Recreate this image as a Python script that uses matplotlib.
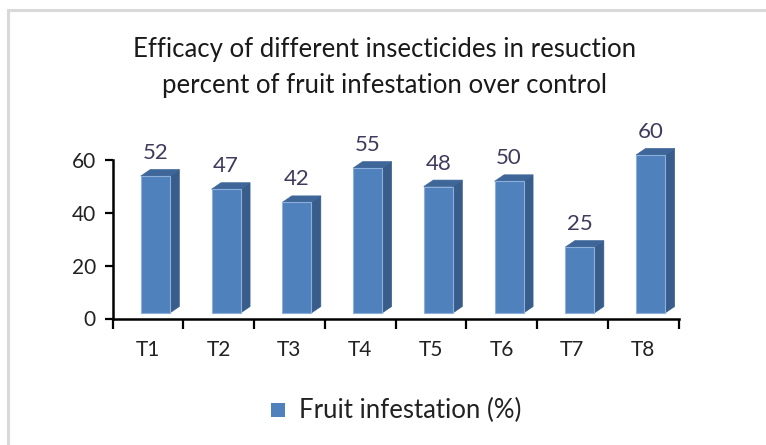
import matplotlib
matplotlib.use("Agg")
import matplotlib.pyplot as plt
from matplotlib.patches import Polygon, Rectangle
from matplotlib.lines import Line2D

categories = ["T1", "T2", "T3", "T4", "T5", "T6", "T7", "T8"]
values = [52, 47, 42, 55, 48, 50, 25, 60]
yticks = [0, 20, 40, 60]
title = "Efficacy of different insecticides in resuction\npercent of fruit infestation over control"
legend_label = "Fruit infestation (%)"

W, H = 766, 445
fig = plt.figure(figsize=(W / 100, H / 100), dpi=100)
plt.rcParams['font.family'] = ['Lato', 'DejaVu Sans']

# axes geometry in pixels
ax_left, ax_right = 112.5, 678.5
y0_px, y60_px = 318.5, 160.5
ax = fig.add_axes([ax_left / W, (H - y0_px) / H, (ax_right - ax_left) / W, (y0_px - y60_px) / H])
ax.set_xlim(0, len(categories))
ax.set_ylim(0, 60)

px_x = len(categories) / (ax_right - ax_left)   # data units per pixel x
px_y = 60 / (y0_px - y60_px)                    # data units per pixel y

front_col = "#4F81BD"
side_col = "#385D8A"
top_col = "#3E6699"
edge_col = "#8DB0DA"

depth_dx = 9.5 * px_x
depth_dy = 6.5 * px_y
base = 5.5 * px_y

for i, v in enumerate(values):
    x0 = i + 0.40
    x1 = i + 0.81
    y_b = base
    y_t = base + v
    side = Polygon([(x1, y_b), (x1 + depth_dx, y_b + depth_dy), (x1 + depth_dx, y_t + depth_dy), (x1, y_t)],
                   closed=True, facecolor=side_col, edgecolor=side_col, lw=0.5, clip_on=False, zorder=3)
    ax.add_patch(side)
    top = Polygon([(x0, y_t), (x1, y_t), (x1 + depth_dx, y_t + depth_dy), (x0 + depth_dx, y_t + depth_dy)],
                  closed=True, facecolor=top_col, edgecolor=top_col, lw=0.5, clip_on=False, zorder=3)
    ax.add_patch(top)
    front = Rectangle((x0, y_b), x1 - x0, v, facecolor=front_col, edgecolor=edge_col, lw=0.8,
                      clip_on=False, zorder=4)
    ax.add_patch(front)
    ax.text((x0 + x1) / 2, y_t + 23 * px_y, str(v), ha="center", va="center",
            fontsize=16, color="#403A5C", zorder=5, clip_on=False)

for s in ["top", "right"]:
    ax.spines[s].set_visible(False)
ax.spines["left"].set_linewidth(1.8)
ax.spines["bottom"].set_linewidth(1.8)
ax.spines["left"].set_color("black")
ax.spines["bottom"].set_color("black")
ax.set_yticks(yticks)
ax.set_yticklabels([str(t) for t in yticks], fontsize=15, color="#222222")
ax.tick_params(axis="y", length=6, width=1.6, pad=6)
ax.set_xticks(range(0, len(categories) + 1))
ax.set_xticklabels([])
ax.tick_params(axis="x", length=7, width=1.6)
for i, c in enumerate(categories):
    ax.text(i + 0.5, -32 * px_y, c, ha="center", va="center", fontsize=15, color="#222222", clip_on=False)

# title
fig.text(385 / W, 1 - 68 / H, title, ha="center", va="center", fontsize=18.5,
         color="#1a1a1a", linespacing=1.55)

# legend
fig.patches.append(Rectangle((271 / W, 1 - 417 / H), 14 / W, 14 / H, transform=fig.transFigure,
                             facecolor=front_col, edgecolor="none"))
fig.text(299 / W, 1 - 410 / H, legend_label, ha="left", va="center", fontsize=18.5, color="#222222")

# chart border (left and top visible)
fig.add_artist(Line2D([8 / W, 8 / W], [0, 1 - 10 / H], transform=fig.transFigure, color="#D9D9D9", lw=2.2))
fig.add_artist(Line2D([8 / W, 1], [1 - 10 / H, 1 - 10 / H], transform=fig.transFigure, color="#D9D9D9", lw=2.2))

fig.savefig("out.png", dpi=100)
